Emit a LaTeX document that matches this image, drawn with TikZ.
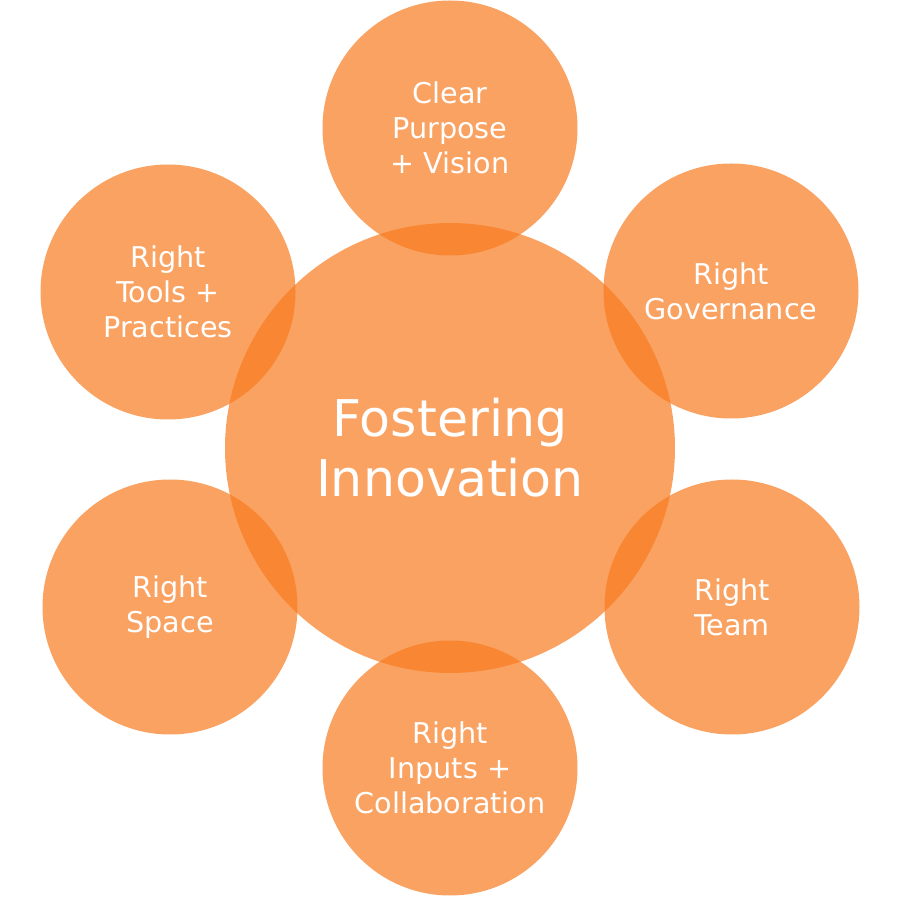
\documentclass[tikz,border=0pt]{standalone}
\usepackage{fontspec}
\setmainfont{DejaVu Sans}
\usepackage{xcolor}
\usepackage{tikz}
\definecolor{innoorange}{HTML}{F97B20}

\begin{document}
\begin{tikzpicture}[
  bubble/.style={circle,fill=innoorange,fill opacity=0.7,text opacity=1,text=white,align=center,inner sep=0pt,minimum size=5.1cm,font=\fontsize{16.3}{19.9}\selectfont},
  hub/.style={bubble,minimum size=9cm,font=\fontsize{28.8}{34}\selectfont}
]
\useasboundingbox[fill=white] (0,0) rectangle (18,18);
\node[hub] (core) at (9,9.04) {Fostering\\Innovation};
\node[bubble] (purpose) at (9,15.44) {Clear\\Purpose\\+ Vision};
\node[bubble] (governance) at (14.62,12.18) {Right\\Governance};
\node[bubble] (team) at (14.64,5.86) {Right\\Team};
\node[bubble] (inputs) at (9,2.64) {Right\\Inputs +\\Collaboration};
\node[bubble] (space) at (3.4,5.86) {Right\\Space};
\node[bubble] (tools) at (3.36,12.16) {Right\\Tools +\\Practices};
\end{tikzpicture}
\end{document}
